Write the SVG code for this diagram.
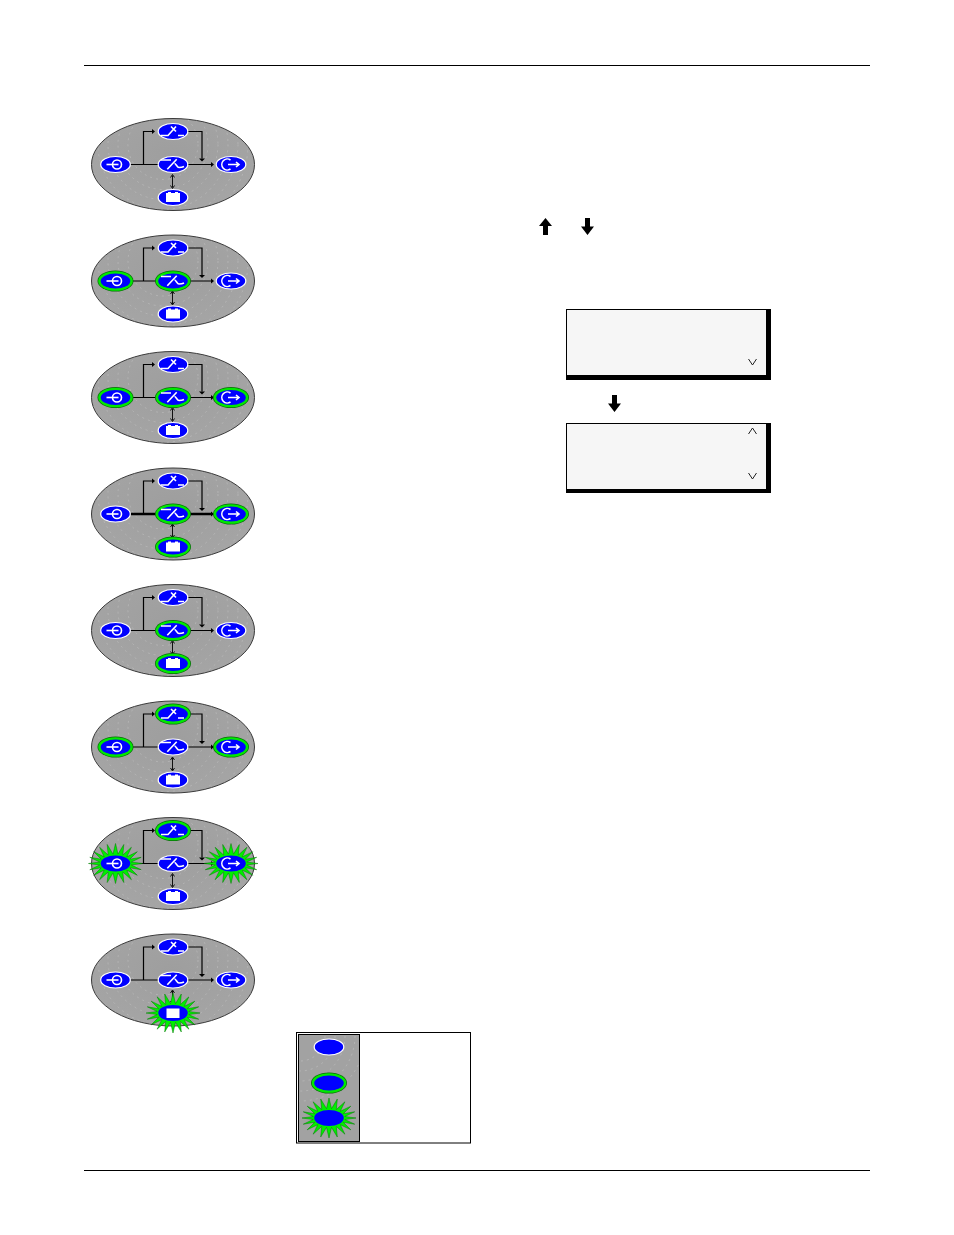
<svg xmlns="http://www.w3.org/2000/svg" xmlns:xlink="http://www.w3.org/1999/xlink" width="954" height="1235" viewBox="0 0 954 1235">
<style>
.rule{stroke:#000;stroke-width:1;fill:none}
.body{fill:url(#g);stroke:#3a3a3a;stroke-width:1}
.w{fill:#00f;stroke:#fff;stroke-width:1.2}
.ic{fill:none;stroke:#fff;stroke-width:1.6}
.icf{fill:#fff;stroke:none}
.ln{fill:none;stroke:#000;stroke-width:1.2}
.thin{fill:none;stroke:#000;stroke-width:.9}
.thick{fill:none;stroke:#000;stroke-width:2.4}
.burst{fill:#00ee00;stroke:#007a00;stroke-width:.5}
.tex{fill:none;stroke:#d4d4d4;stroke-width:.8;stroke-dasharray:2 4;opacity:.45}
.chev{fill:none;stroke:#222;stroke-width:1}
.lcd{fill:#f6f6f6;stroke:#000;stroke-width:1}
</style>
<defs>
<radialGradient id="g" gradientUnits="objectBoundingBox" cx=".5" cy=".4" r=".7">
<stop offset="0" stop-color="#9e9e9e"/><stop offset="1" stop-color="#a6a6a6"/>
</radialGradient>
<clipPath id="bodyClip"><ellipse rx="81" ry="45.500"/></clipPath>
<clipPath id="legendClip"><rect x="299" y="1035" width="60" height="106"/></clipPath>
<polygon id="burst" class="burst" points="27,0 15.800,1.500 25.700,6.200 14.300,4.300 21.800,11.800 11.300,6.700 15.900,16.200 7.300,8.500 8.300,19 2.500,9.400 0,20 -2.500,9.400 -8.300,19 -7.300,8.500 -15.900,16.200 -11.300,6.700 -21.800,11.800 -14.300,4.300 -25.700,6.200 -15.800,1.500 -27,0 -15.800,-1.500 -25.700,-6.200 -14.300,-4.300 -21.800,-11.800 -11.300,-6.700 -15.900,-16.200 -7.300,-8.500 -8.300,-19 -2.500,-9.400 0,-20 2.500,-9.400 8.300,-19 7.300,-8.500 15.900,-16.200 11.300,-6.700 21.800,-11.800 14.300,-4.300 25.700,-6.200 15.800,-1.500"/>
<g id="on"><ellipse rx="18" ry="10.500" fill="#0a6a0a"/><ellipse rx="17.300" ry="9.800" fill="#00e800"/><ellipse rx="14.800" ry="7.600" fill="#00f"/></g>
<g id="wn"><ellipse class="w" rx="14.800" ry="8"/></g>
<g id="bn"><use xlink:href="#burst" href="#burst"/><ellipse rx="14.800" ry="8" fill="#00f"/></g>
<g id="body">
<ellipse class="body" rx="81.500" ry="46"/>
<g clip-path="url(#bodyClip)">
<circle class="tex" cx="-10" cy="-20" r="35"/><circle class="tex" cx="-10" cy="-20" r="45"/><circle class="tex" cx="-10" cy="-20" r="55"/><circle class="tex" cx="-10" cy="-20" r="65"/><circle class="tex" cx="-10" cy="-20" r="75"/><circle class="tex" cx="-10" cy="-20" r="85"/>
</g>
</g>
<g id="iL"><circle class="ic" cx="1.500" cy="0" r="4.500"/><path class="ic" d="M-9,0H3"/></g>
<g id="iR"><path class="ic" d="M-0.500,-4.500A5.500,5.500 0 1 0 -0.500,4.500"/><path class="ic" d="M-3,0H7.500M5,-2.500L8,0L5,2.500"/></g>
<g id="iT"><path class="ic" d="M-12,4H-5L3,-5M-2,-5L3,0M5,4H11"/></g>
<g id="iC"><path class="ic" d="M-12,-4.500H-2M-5.700,4.800L3.700,-5.200M1.500,-1C3,-1 4,3 6,3S9,3 11,2"/></g>
<g id="iB"><path class="icf" d="M-7,-4.500H-5V-5.500H-2V-4.500H2V-5.500H5V-4.500H7V4.500H-7Z"/></g>
<g id="arrowDown"><path d="M-2.500,-8.500H2.500V0H6.500L0,8.500L-6.500,0H-2.500Z" fill="#000"/></g>
<path id="tipR" d="M0,-2.500L3,0L0,2.500Z" fill="#000"/>
<path id="tipD" d="M-3,0H3L0,3Z" fill="#000"/>
<g id="links">
<path class="ln" d="M-29.500,0V-33H-21"/>
<use xlink:href="#tipR" href="#tipR" x="-21" y="-33"/>
<path class="ln" d="M15,-33H29V-6"/>
<use xlink:href="#tipD" href="#tipD" x="29" y="-6"/>
<path class="thin" d="M-0.500,11V23M-2.500,13L-0.500,10L1.500,13M-2.500,21L-0.500,24L1.500,21"/>
<use xlink:href="#tipR" href="#tipR" x="38"/>
</g>
</defs>

<line id="rule-top" class="rule" x1="84" y1="65.500" x2="870" y2="65.500"/>
<line id="rule-bottom" class="rule" x1="84" y1="1170.500" x2="870" y2="1170.500"/>

<g id="panel-bodies">
<use xlink:href="#body" href="#body" x="173" y="164.500"/>
<use xlink:href="#body" href="#body" x="173" y="281"/>
<use xlink:href="#body" href="#body" x="173" y="397.500"/>
<use xlink:href="#body" href="#body" x="173" y="514"/>
<use xlink:href="#body" href="#body" x="173" y="630.500"/>
<use xlink:href="#body" href="#body" x="173" y="747"/>
<use xlink:href="#body" href="#body" x="173" y="863.500"/>
<use xlink:href="#body" href="#body" x="173" y="980"/>
</g>

<g id="connectors">
<g transform="translate(173,164.500)"><use xlink:href="#links" href="#links"/><path class="ln" d="M-43,0H-14M15,0H38"/></g>
<g transform="translate(173,281)"><use xlink:href="#links" href="#links"/><path class="ln" d="M-43,0H-14M15,0H38"/></g>
<g transform="translate(173,397.500)"><use xlink:href="#links" href="#links"/><path class="ln" d="M-43,0H-14M15,0H38"/></g>
<g transform="translate(173,514)"><use xlink:href="#links" href="#links"/><path class="thick" d="M-43,0H-14M15,0H38"/></g>
<g transform="translate(173,630.500)"><use xlink:href="#links" href="#links"/><path class="ln" d="M-43,0H-14M15,0H38"/></g>
<g transform="translate(173,747)"><use xlink:href="#links" href="#links"/><path class="ln" d="M-43,0H-14M15,0H38"/></g>
<g transform="translate(173,863.500)"><use xlink:href="#links" href="#links"/><path class="ln" d="M-43,0H-14M15,0H38"/></g>
<g transform="translate(173,980)"><use xlink:href="#links" href="#links"/><path class="ln" d="M-43,0H-14M15,0H38"/></g>
</g>

<g id="p1-left" transform="translate(115.500,164.500)"><use xlink:href="#wn" href="#wn"/><use xlink:href="#iL" href="#iL"/></g>
<g id="p1-top" transform="translate(173,131.500)"><use xlink:href="#wn" href="#wn"/><use xlink:href="#iT" href="#iT"/></g>
<g id="p1-center" transform="translate(173,164.500)"><use xlink:href="#wn" href="#wn"/><use xlink:href="#iC" href="#iC"/></g>
<g id="p1-right" transform="translate(231,164.500)"><use xlink:href="#wn" href="#wn"/><use xlink:href="#iR" href="#iR"/></g>
<g id="p1-bottom" transform="translate(173,197.500)"><use xlink:href="#wn" href="#wn"/><use xlink:href="#iB" href="#iB"/></g>

<g id="p2-left" transform="translate(115.500,281)"><use xlink:href="#on" href="#on"/><use xlink:href="#iL" href="#iL"/></g>
<g id="p2-top" transform="translate(173,248)"><use xlink:href="#wn" href="#wn"/><use xlink:href="#iT" href="#iT"/></g>
<g id="p2-center" transform="translate(173,281)"><use xlink:href="#on" href="#on"/><use xlink:href="#iC" href="#iC"/></g>
<g id="p2-right" transform="translate(231,281)"><use xlink:href="#wn" href="#wn"/><use xlink:href="#iR" href="#iR"/></g>
<g id="p2-bottom" transform="translate(173,314)"><use xlink:href="#wn" href="#wn"/><use xlink:href="#iB" href="#iB"/></g>

<g id="p3-left" transform="translate(115.500,397.500)"><use xlink:href="#on" href="#on"/><use xlink:href="#iL" href="#iL"/></g>
<g id="p3-top" transform="translate(173,364.500)"><use xlink:href="#wn" href="#wn"/><use xlink:href="#iT" href="#iT"/></g>
<g id="p3-center" transform="translate(173,397.500)"><use xlink:href="#on" href="#on"/><use xlink:href="#iC" href="#iC"/></g>
<g id="p3-right" transform="translate(231,397.500)"><use xlink:href="#on" href="#on"/><use xlink:href="#iR" href="#iR"/></g>
<g id="p3-bottom" transform="translate(173,430.500)"><use xlink:href="#wn" href="#wn"/><use xlink:href="#iB" href="#iB"/></g>

<g id="p4-left" transform="translate(115.500,514)"><use xlink:href="#wn" href="#wn"/><use xlink:href="#iL" href="#iL"/></g>
<g id="p4-top" transform="translate(173,481)"><use xlink:href="#wn" href="#wn"/><use xlink:href="#iT" href="#iT"/></g>
<g id="p4-center" transform="translate(173,514)"><use xlink:href="#on" href="#on"/><use xlink:href="#iC" href="#iC"/></g>
<g id="p4-right" transform="translate(231,514)"><use xlink:href="#on" href="#on"/><use xlink:href="#iR" href="#iR"/></g>
<g id="p4-bottom" transform="translate(173,547)"><use xlink:href="#on" href="#on"/><use xlink:href="#iB" href="#iB"/></g>

<g id="p5-left" transform="translate(115.500,630.500)"><use xlink:href="#wn" href="#wn"/><use xlink:href="#iL" href="#iL"/></g>
<g id="p5-top" transform="translate(173,597.500)"><use xlink:href="#wn" href="#wn"/><use xlink:href="#iT" href="#iT"/></g>
<g id="p5-center" transform="translate(173,630.500)"><use xlink:href="#on" href="#on"/><use xlink:href="#iC" href="#iC"/></g>
<g id="p5-right" transform="translate(231,630.500)"><use xlink:href="#wn" href="#wn"/><use xlink:href="#iR" href="#iR"/></g>
<g id="p5-bottom" transform="translate(173,663.500)"><use xlink:href="#on" href="#on"/><use xlink:href="#iB" href="#iB"/></g>

<g id="p6-left" transform="translate(115.500,747)"><use xlink:href="#on" href="#on"/><use xlink:href="#iL" href="#iL"/></g>
<g id="p6-top" transform="translate(173,714)"><use xlink:href="#on" href="#on"/><use xlink:href="#iT" href="#iT"/></g>
<g id="p6-center" transform="translate(173,747)"><use xlink:href="#wn" href="#wn"/><use xlink:href="#iC" href="#iC"/></g>
<g id="p6-right" transform="translate(231,747)"><use xlink:href="#on" href="#on"/><use xlink:href="#iR" href="#iR"/></g>
<g id="p6-bottom" transform="translate(173,780)"><use xlink:href="#wn" href="#wn"/><use xlink:href="#iB" href="#iB"/></g>

<g id="p7-left" transform="translate(115.500,863.500)"><use xlink:href="#bn" href="#bn"/><use xlink:href="#iL" href="#iL"/></g>
<g id="p7-top" transform="translate(173,830.500)"><use xlink:href="#on" href="#on"/><use xlink:href="#iT" href="#iT"/></g>
<g id="p7-center" transform="translate(173,863.500)"><use xlink:href="#wn" href="#wn"/><use xlink:href="#iC" href="#iC"/></g>
<g id="p7-right" transform="translate(231,863.500)"><use xlink:href="#bn" href="#bn"/><use xlink:href="#iR" href="#iR"/></g>
<g id="p7-bottom" transform="translate(173,896.500)"><use xlink:href="#wn" href="#wn"/><use xlink:href="#iB" href="#iB"/></g>

<g id="p8-left" transform="translate(115.500,980)"><use xlink:href="#wn" href="#wn"/><use xlink:href="#iL" href="#iL"/></g>
<g id="p8-top" transform="translate(173,947)"><use xlink:href="#wn" href="#wn"/><use xlink:href="#iT" href="#iT"/></g>
<g id="p8-center" transform="translate(173,980)"><use xlink:href="#wn" href="#wn"/><use xlink:href="#iC" href="#iC"/></g>
<g id="p8-right" transform="translate(231,980)"><use xlink:href="#wn" href="#wn"/><use xlink:href="#iR" href="#iR"/></g>
<g id="p8-bottom" transform="translate(173,1013)"><use xlink:href="#bn" href="#bn"/><rect class="icf" x="-6.500" y="-4.500" width="13" height="9.500"/></g>

<g id="key-up"><path d="M543,235V226H539L545.500,218L552,226H548V235Z" fill="#000"/></g>
<use id="key-down" xlink:href="#arrowDown" href="#arrowDown" x="587.500" y="226.500"/>
<use id="key-down-2" xlink:href="#arrowDown" href="#arrowDown" x="614.500" y="403.500"/>

<g id="lcd-1">
<rect x="566" y="375" width="205" height="5" fill="#000"/><rect x="766" y="309" width="5" height="71" fill="#000"/>
<rect class="lcd" x="566.500" y="309.500" width="200" height="66"/>
<path class="chev" d="M748.500,359L752.500,365L756.500,359"/>
</g>
<g id="lcd-2">
<rect x="566" y="489" width="205" height="4" fill="#000"/><rect x="766" y="423" width="5" height="70" fill="#000"/>
<rect class="lcd" x="566.500" y="423.500" width="200" height="66"/>
<path class="chev" d="M748.500,434L752.500,428L756.500,434M748.500,473L752.500,479L756.500,473"/>
</g>

<g id="legend">
<rect x="296.500" y="1032.500" width="174" height="110.500" fill="#fff" stroke="#000"/>
<rect x="298.500" y="1034.500" width="61" height="107" fill="#a2a2a2" stroke="#000"/>
<g clip-path="url(#legendClip)">
<circle class="tex" cx="300" cy="1036" r="25"/><circle class="tex" cx="300" cy="1036" r="35"/><circle class="tex" cx="300" cy="1036" r="45"/><circle class="tex" cx="300" cy="1036" r="55"/><circle class="tex" cx="300" cy="1036" r="65"/>
</g>
<use xlink:href="#wn" href="#wn" x="329" y="1047"/>
<use xlink:href="#on" href="#on" x="329" y="1083"/>
<use xlink:href="#bn" href="#bn" x="329" y="1118"/>
</g>
</svg>
